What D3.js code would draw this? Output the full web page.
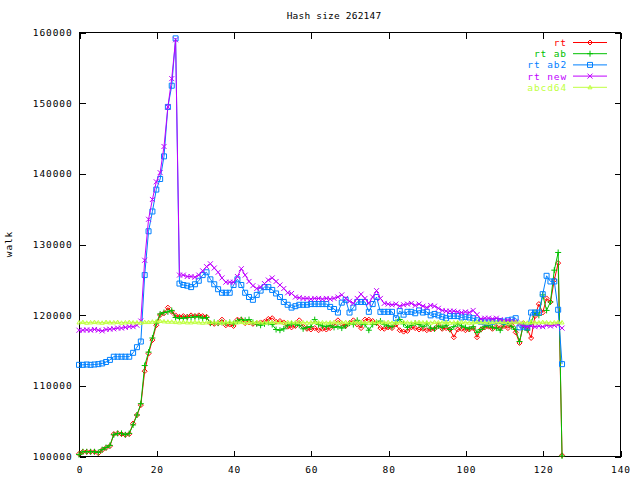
<!DOCTYPE html>
<html>
<head>
<meta charset="utf-8">
<script src="https://cdn.jsdelivr.net/npm/d3@7"></script>
<style>
  html, body { margin: 0; padding: 0; background: #fff; }
  svg { display: block; }
  text { font-family: "DejaVu Sans Mono", monospace; font-size: 9.5px; letter-spacing: 0.9px; fill: #000; }
</style>
</head>
<body>
<svg id="chart" width="640" height="480"></svg>
<script>
// ---------- data ----------
const titleText = "Hash size 262147";
const yLabel = "walk";
const xTicks = [0, 20, 40, 60, 80, 100, 120, 140];
const yTicks = [100000, 110000, 120000, 130000, 140000, 150000, 160000];
const seriesNames = ["rt", "rt ab", "rt ab2", "rt new", "abcd64"];

const rt = [100300,100600,100600,100600,100600,100400,100850,101150,101400,103100,
103200,103100,103000,103100,104600,105800,107200,112000,114500,116400,
118500,119950,120200,121000,120400,119900,119700,119800,119700,119900,
119800,119900,119800,119700,118800,118700,118800,119300,118500,118600,
118400,119300,119300,118800,118900,118700,118800,118900,119000,119400,
119500,119000,119100,118900,118300,118200,118400,119200,118300,118000,
117900,118100,117800,118000,117900,118100,118500,119200,118700,118400,
118800,119200,118600,118100,119300,119300,119100,118800,118100,118000,
118200,118100,118600,117800,117600,117700,118200,118100,117900,118000,
117800,117900,118000,118500,118000,118100,117900,116800,117900,118000,
117800,117900,118100,116800,117900,118200,118300,118000,118300,118100,
118400,118100,118500,117500,116000,118800,118000,116700,119800,121500,
120300,122300,121800,124900,127300,100100];

const rtAb = [100200,100600,100600,100600,100600,100500,100900,101200,101500,103000,
103200,103200,103000,103200,104400,105800,107400,112800,114700,116700,
118800,120100,120300,120400,120600,119600,119500,119500,119600,119600,
119700,119700,119500,119600,118800,118900,118800,118900,118800,118900,
118700,119100,119300,119200,119300,118900,118700,118500,118700,118900,
118600,117900,117800,118000,118500,118700,118600,118500,118000,118200,
118300,119300,118600,118400,118300,118500,118200,118300,118100,118400,
118800,118600,119200,118700,118600,117800,118600,118900,119100,118600,
118400,118300,118900,119300,118700,118200,118500,118800,118600,118300,
118700,118100,118000,118400,118200,118500,117900,118300,118700,118400,
118200,118000,118300,117500,117900,118300,118500,118200,118100,117800,
118600,118800,118300,117900,116200,118500,117800,118900,120300,119900,
122800,120600,121800,126300,128800,100000];

const rtAb2 = [112900,112900,112950,112900,112950,113000,113100,113300,113600,114050,
114050,114050,114050,114050,114600,115400,116200,125600,131800,134600,
137700,139200,142400,149400,152400,159100,124400,124200,124100,123900,
124300,124800,125600,126000,125000,124300,123600,123100,123100,123100,
124200,125000,124200,123100,122500,122100,122800,123400,123900,123900,
123500,123000,122500,121800,121400,121000,121200,121400,121400,121400,
121500,121500,121500,121500,121500,121100,120800,120300,121700,122100,
120300,121000,121800,121800,121800,120400,121500,122500,120400,120400,
120400,120400,119500,120500,120000,120400,120400,120200,120600,120300,
120400,119900,120100,119900,119700,119500,119800,119800,119800,119600,
119700,119600,119500,119200,119000,118900,118900,119000,119100,119100,
119000,119200,119300,119500,118200,118300,118200,120300,120300,120300,
122900,125500,124700,124700,120700,113000];

const rtNew = [117800,117800,117850,117800,117900,117800,117700,117900,117950,118000,
118100,118100,118200,118300,118300,118500,119100,127700,133500,136300,
138800,140100,143800,149400,153400,158900,125600,125600,125400,125400,
125300,125600,126200,126800,127200,126600,126000,125200,124600,124600,
124600,125400,126500,125600,124700,124100,123700,123900,124400,124900,
125200,124700,124200,123700,123100,123000,122500,122400,122300,122300,
122200,122300,122300,122200,122300,122200,122300,122500,122800,122300,
121900,121600,122300,122900,122300,121600,122500,123400,122300,121600,
121500,121400,121500,121200,121400,121500,121600,121300,121500,121200,
121000,121300,121200,120900,120600,120500,120500,120500,120400,120300,
120400,120300,120600,120000,119400,119500,119500,119400,119500,119300,
119100,119200,119100,119000,118700,118400,118300,118400,118300,118400,
118300,118500,118400,118500,118600,118100];

const abcd64 = [118900,118950,118850,118900,118950,118900,118850,118950,118900,118900,
118950,118850,118900,118950,118900,118900,118850,118950,118950,119000,
119050,119100,119050,119000,119000,118950,118900,118950,118900,118900,
118950,118900,118850,118900,118950,118900,118900,118850,118900,118950,
118900,118900,118950,118850,118900,118900,118950,118900,118850,118900,
118950,118900,118900,118850,118950,118900,118900,118950,118900,118850,
118900,118950,118900,118900,118850,118900,118950,118900,118900,118950,
118850,118900,118900,118950,118900,118850,118900,118950,118900,118900,
118950,118850,118900,118900,118950,118900,118850,118900,118950,118900,
118900,118850,118950,118900,118900,118950,118850,118900,118900,118950,
118900,118850,118900,118950,118900,118900,118850,118950,118900,118900,
118950,118850,118900,118950,118900,118900,118850,118950,118900,118900,
118950,118900,118850,118900,118950,118900];

// ---------- layout ----------
const svg = d3.select("#chart");
const L = 79, R = 620, T = 32, B = 456;
const x = d3.scaleLinear().domain([0, 140]).range([L, R]);
const y = d3.scaleLinear().domain([100000, 160000]).range([B, T]);

const colors = ["#ff0000", "#00c000", "#0080ff", "#c000ff", "#c0ff40"];
const markers = [
  "M0,-2.5L2.5,0L0,2.5L-2.5,0Z",          // diamond
  "M-3,0H3M0,-3V3",                         // plus
  "M-2.5,-2.5H2.5V2.5H-2.5Z",               // box
  "M-2.5,-2.5L2.5,2.5M-2.5,2.5L2.5,-2.5",   // cross
  "M0,-2L2,1.5H-2Z"                          // triangle
];
const allSeries = [rt, rtAb, rtAb2, rtNew, abcd64];

// axes (ticks inward, mirrored)
const gl = svg.append("g").attr("transform", `translate(${L + 0.5},0.5)`)
  .call(d3.axisLeft(y).tickValues(yTicks).tickFormat(d3.format("d"))
    .tickSizeInner(-6).tickSizeOuter(0).tickPadding(7));
const gr = svg.append("g").attr("transform", `translate(${R + 0.5},0.5)`)
  .call(d3.axisRight(y).tickValues(yTicks).tickFormat("")
    .tickSizeInner(-6).tickSizeOuter(0));
const gb = svg.append("g").attr("transform", `translate(0.5,${B + 0.5})`)
  .call(d3.axisBottom(x).tickValues(xTicks).tickFormat(d3.format("d"))
    .tickSizeInner(-6).tickSizeOuter(0).tickPadding(10));
const gt = svg.append("g").attr("transform", `translate(0.5,${T + 0.5})`)
  .call(d3.axisTop(x).tickValues(xTicks).tickFormat("")
    .tickSizeInner(-6).tickSizeOuter(0));
[gl, gr, gb, gt].forEach(g => {
  g.select(".domain").remove();
  g.selectAll("line").attr("stroke", "#000").attr("shape-rendering", "crispEdges");
  g.selectAll("text").attr("font-family", "DejaVu Sans Mono").attr("font-size", 9.5)
    .style("letter-spacing", "0.9px").attr("fill", "#000");
});

// border
svg.append("rect").attr("x", L + 0.5).attr("y", T + 0.5)
  .attr("width", R - L).attr("height", B - T)
  .attr("fill", "none").attr("stroke", "#000").attr("shape-rendering", "crispEdges");

// title & y label
svg.append("text").attr("x", 334).attr("y", 19).attr("text-anchor", "middle")
  .style("letter-spacing", "0.2px").text(titleText);
svg.append("text").attr("transform", "translate(12,244) rotate(-90)")
  .attr("text-anchor", "middle").text(yLabel);

// series
const line = d3.line().x((d, i) => x(i)).y(d => y(d));
allSeries.forEach((data, k) => {
  const g = svg.append("g");
  g.append("path").datum(data).attr("d", line)
    .attr("fill", "none").attr("stroke", colors[k]).attr("stroke-width", 1);
  g.selectAll("path.m").data(data).enter().append("path").attr("class", "m")
    .attr("transform", (d, i) => `translate(${x(i)},${y(d)})`)
    .attr("d", markers[k]).attr("fill", "none").attr("stroke", colors[k]).attr("stroke-width", 1);
});

// legend
const legend = svg.append("g");
seriesNames.forEach((name, k) => {
  const yy = 42.5 + k * 11.2;
  legend.append("text").attr("x", 567).attr("y", yy + 3.5).attr("text-anchor", "end")
    .style("fill", colors[k]).text(name);
  legend.append("line").attr("x1", 573).attr("x2", 607).attr("y1", yy).attr("y2", yy)
    .attr("stroke", colors[k]);
  legend.append("path").attr("transform", `translate(590,${yy})`).attr("d", markers[k])
    .attr("fill", "none").attr("stroke", colors[k]);
});
</script>
</body>
</html>
